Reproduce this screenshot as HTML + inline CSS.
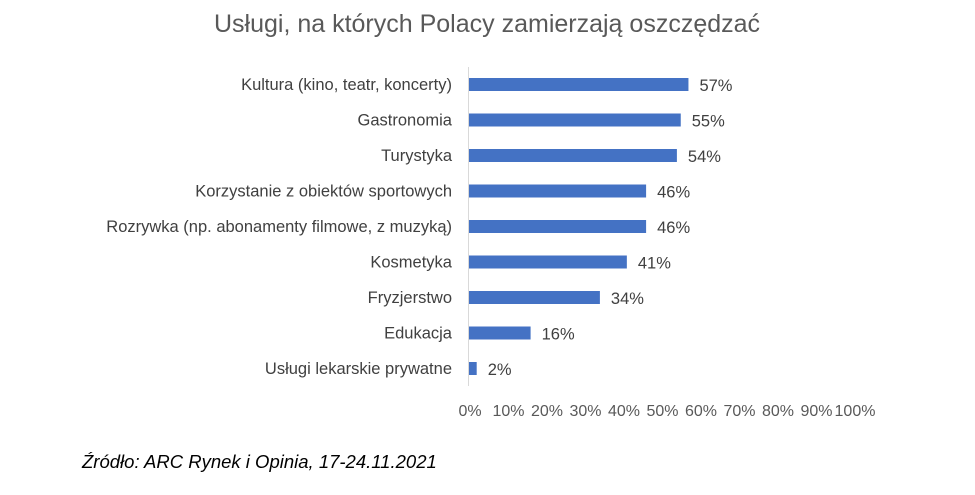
<!DOCTYPE html>
<html><head><meta charset="utf-8"><style>
body{margin:0;background:#fff;width:975px;height:490px;overflow:hidden;font-family:"Liberation Sans",sans-serif}
svg text{font-family:"Liberation Sans",sans-serif}
</style></head><body>
<svg width="975" height="490">
<text x="487" y="32" text-anchor="middle" font-size="25" fill="#595959">Usługi, na których Polacy zamierzają oszczędzać</text>
<line x1="468.5" y1="67" x2="468.5" y2="386" stroke="#d9d9d9" stroke-width="1"/>
<g id="bars"></g>
<g id="ticks"></g>
<text x="82" y="468" font-size="18.5" font-style="italic" fill="#000">Źródło: ARC Rynek i Opinia, 17-24.11.2021</text>
</svg>
<script>
const categories=["Kultura (kino, teatr, koncerty)","Gastronomia","Turystyka","Korzystanie z obiektów sportowych","Rozrywka (np. abonamenty filmowe, z muzyką)","Kosmetyka","Fryzjerstwo","Edukacja","Usługi lekarskie prywatne"];
const values=[57,55,54,46,46,41,34,16,2];
const tickValues=[0,10,20,30,40,50,60,70,80,90,100];
const ns="http://www.w3.org/2000/svg";
const x0=469,pxPer=3.85;
function xs(v){return x0+v*pxPer;}
function ys(i){return 84.5+i*35.5;}
const bars=document.getElementById('bars');
categories.forEach((c,i)=>{
  const y=ys(i);
  const r=document.createElementNS(ns,'rect');
  r.setAttribute('x',x0);r.setAttribute('y',y-6.5);r.setAttribute('width',xs(values[i])-x0);r.setAttribute('height',13);r.setAttribute('fill','#4472c4');
  
  
  bars.appendChild(r);
  const l=document.createElementNS(ns,'text');
  l.setAttribute('x',452);l.setAttribute('y',y+5.5);l.setAttribute('text-anchor','end');l.setAttribute('font-size','16.5');l.setAttribute('fill','#404040');l.textContent=c;
  
  
  bars.appendChild(l);
  const v=document.createElementNS(ns,'text');
  v.setAttribute('x',xs(values[i])+11);v.setAttribute('y',y+6.5);v.setAttribute('font-size','16.5');v.setAttribute('fill','#404040');v.textContent=values[i]+'%';
  
  
  bars.appendChild(v);
});
const ticks=document.getElementById('ticks');
tickValues.forEach(t=>{
  const e=document.createElementNS(ns,'text');
  e.setAttribute('x',xs(t)+1);e.setAttribute('y',416);e.setAttribute('text-anchor','middle');e.setAttribute('font-size','16');e.setAttribute('fill','#595959');e.textContent=t+'%';
  
  
  ticks.appendChild(e);
});
</script>
</body></html>
